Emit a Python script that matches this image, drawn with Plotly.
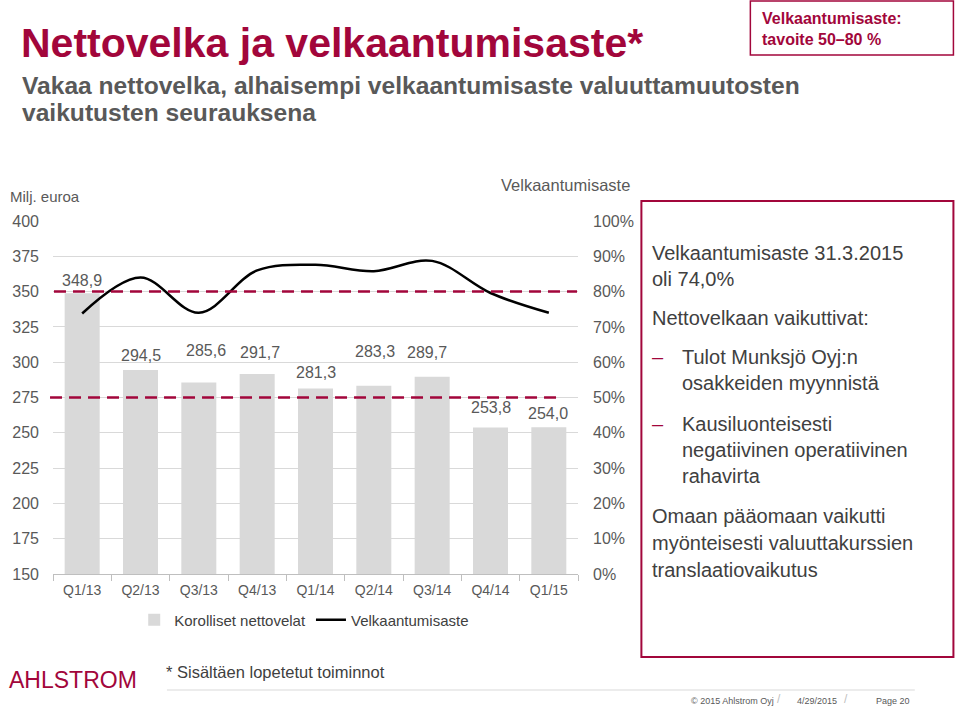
import plotly.graph_objects as go

# ---------------- data ----------------
quarters = ["Q1/13", "Q2/13", "Q3/13", "Q4/13", "Q1/14", "Q2/14", "Q3/14", "Q4/14", "Q1/15"]
net_debt = [348.9, 294.5, 285.6, 291.7, 281.3, 283.3, 289.7, 253.8, 254.0]
gearing = [73.8, 84.0, 74.0, 86.0, 87.6, 85.8, 88.7, 79.6, 74.0]
target_low = 50
target_high = 80
left_ticks = list(range(150, 401, 25))
right_ticks = list(range(0, 101, 10))
right_tick_text = [f"{v}%" for v in right_ticks]

# label offsets (pixels) for the bar value labels
label_dy = [13, 14, 32, 21, 16, 34, 24, 20, 14]
label_dx = [0, 0, 7, 3, 0, 1, -5, 0, -1]

CRIMSON = "#A2063B"
GRAY_TXT = "#595959"
DARK_TXT = "#404040"
FONT = "Liberation Sans, Arial, sans-serif"

W, H = 959, 708
X0, X1, YB, YT = 48, 578, 574, 221


def fx(x):
    return (x - X0) / (X1 - X0)


def fy(y):
    return (YB - y) / (YB - YT)


fig = go.Figure()
fig.add_trace(go.Bar(
    x=quarters, y=net_debt, name="Korolliset nettovelat",
    marker=dict(color="#D9D9D9", line=dict(width=0)), width=0.6,
))
fig.add_trace(go.Scatter(
    x=quarters, y=gearing, name="Velkaantumisaste", yaxis="y2",
    mode="lines", line=dict(color="black", width=2.5, shape="spline", smoothing=1.0),
))

annotations = []
for q, v, dy, dx in zip(quarters, net_debt, label_dy, label_dx):
    annotations.append(dict(
        x=q, y=v, xref="x", yref="y", text=f"{v:.1f}".replace(".", ","),
        showarrow=False, yanchor="middle", xanchor="center", yshift=dy, xshift=dx,
        font=dict(size=16, color=GRAY_TXT, family=FONT),
    ))


def txt(x, y, s, size, color, bold=False, anchor="left"):
    annotations.append(dict(
        x=fx(x), y=fy(y), xref="paper", yref="paper", text=(f"<b>{s}</b>" if bold else s),
        showarrow=False, xanchor=anchor, yanchor="middle",
        font=dict(size=size, color=color, family=FONT),
    ))


# headings
txt(14, 43, "Nettovelka ja velkaantumisaste*", 41, CRIMSON, bold=True)
txt(15, 85, "Vakaa nettovelka, alhaisempi velkaantumisaste valuuttamuutosten", 24.6, GRAY_TXT, bold=True)
txt(15, 113, "vaikutusten seurauksena", 24.6, GRAY_TXT, bold=True)
txt(762, 19, "Velkaantumisaste:", 16, CRIMSON, bold=True)
txt(762, 40, "tavoite 50\u201380 %", 16, CRIMSON, bold=True)

# axis titles
txt(3, 197, "Milj. euroa", 15, GRAY_TXT)
txt(633, 185, "Velkaantumisaste", 16.5, GRAY_TXT, anchor="right")

# right text box
txt(651, 253, "Velkaantumisaste 31.3.2015", 20, DARK_TXT)
txt(651, 279, "oli 74,0%", 20, DARK_TXT)
txt(651, 318, "Nettovelkaan vaikuttivat:", 20, DARK_TXT)
txt(651, 357, "\u2013", 20, CRIMSON)
txt(681, 357, "Tulot Munksjö Oyj:n", 20, DARK_TXT)
txt(681, 383, "osakkeiden myynnistä", 20, DARK_TXT)
txt(651, 424, "\u2013", 20, CRIMSON)
txt(681, 424, "Kausiluonteisesti", 20, DARK_TXT)
txt(681, 450, "negatiivinen operatiivinen", 20, DARK_TXT)
txt(681, 476, "rahavirta", 20, DARK_TXT)
txt(651, 516, "Omaan pääomaan vaikutti", 20, DARK_TXT)
txt(651, 543, "myönteisesti valuuttakurssien", 20, DARK_TXT)
txt(651, 570, "translaatiovaikutus", 20, DARK_TXT)

# footer
txt(2, 680, "AHLSTROM", 23, CRIMSON)
txt(160, 672, "* Sisältäen lopetetut toiminnot", 16.5, DARK_TXT)
txt(690, 701, "© 2015 Ahlstrom Oyj", 9, GRAY_TXT)
txt(777, 699, "/", 12, "#BFBFBF")
txt(797, 701, "4/29/2015", 9, GRAY_TXT)
txt(845, 699, "/", 12, "#BFBFBF")
txt(877, 701, "Page 20", 9, GRAY_TXT)

shapes = [
    # target lines (on secondary axis values)
    dict(type="line", xref="paper", yref="y2", x0=fx(49), x1=fx(577), y0=target_high, y1=target_high,
         line=dict(color=CRIMSON, width=2.5, dash="12px,7px")),
    dict(type="line", xref="paper", yref="y2", x0=fx(45), x1=fx(562), y0=target_low, y1=target_low,
         line=dict(color=CRIMSON, width=2.5, dash="12px,7px")),
    # boxes
    dict(type="rect", xref="paper", yref="paper", x0=fx(752), x1=fx(957), y0=fy(1), y1=fy(55),
         line=dict(color=CRIMSON, width=1.5), layer="above"),
    dict(type="rect", xref="paper", yref="paper", x0=fx(642), x1=fx(957), y0=fy(201), y1=fy(657),
         line=dict(color=CRIMSON, width=2), layer="above"),
    # footer line
    dict(type="line", xref="paper", yref="paper", x0=fx(163), x1=fx(918), y0=fy(690), y1=fy(690),
         line=dict(color="#D9D9D9", width=1)),
]

fig.update_layout(
    width=W, height=H,
    margin=dict(l=X0, r=W - X1, t=YT, b=H - YB, pad=0),
    paper_bgcolor="white", plot_bgcolor="white",
    font=dict(family=FONT, color=GRAY_TXT),
    bargap=0.4,
    showlegend=True,
    legend=dict(orientation="h", x=fx(130), y=fy(620), xanchor="left", yanchor="middle",
                font=dict(size=15, color=DARK_TXT, family=FONT), itemwidth=30,
                bgcolor="rgba(0,0,0,0)"),
    xaxis=dict(
        type="category", showline=True, linecolor="#BFBFBF", linewidth=1,
        ticks="outside", tickson="boundaries", ticklen=6, tickcolor="#BFBFBF",
        tickfont=dict(size=14, color=GRAY_TXT), showgrid=False, ticklabelstandoff=3,
    ),
    yaxis=dict(
        range=[150, 400], tickvals=left_ticks, showgrid=True, gridcolor="#D9D9D9", gridwidth=1,
        zeroline=False, showline=False, tickfont=dict(size=16, color=GRAY_TXT), ticks="",
        ticklabelstandoff=13,
    ),
    yaxis2=dict(
        range=[0, 100], tickmode="array", tickvals=right_ticks, ticktext=right_tick_text,
        overlaying="y", side="right",
        showgrid=False, zeroline=False, showline=False, tickfont=dict(size=16, color=GRAY_TXT),
        ticklabelstandoff=14,
    ),
    shapes=shapes,
    annotations=annotations,
)

fig.write_html("out.html", config={"displayModeBar": False},
               post_script="document.body.style.margin='0px';")
